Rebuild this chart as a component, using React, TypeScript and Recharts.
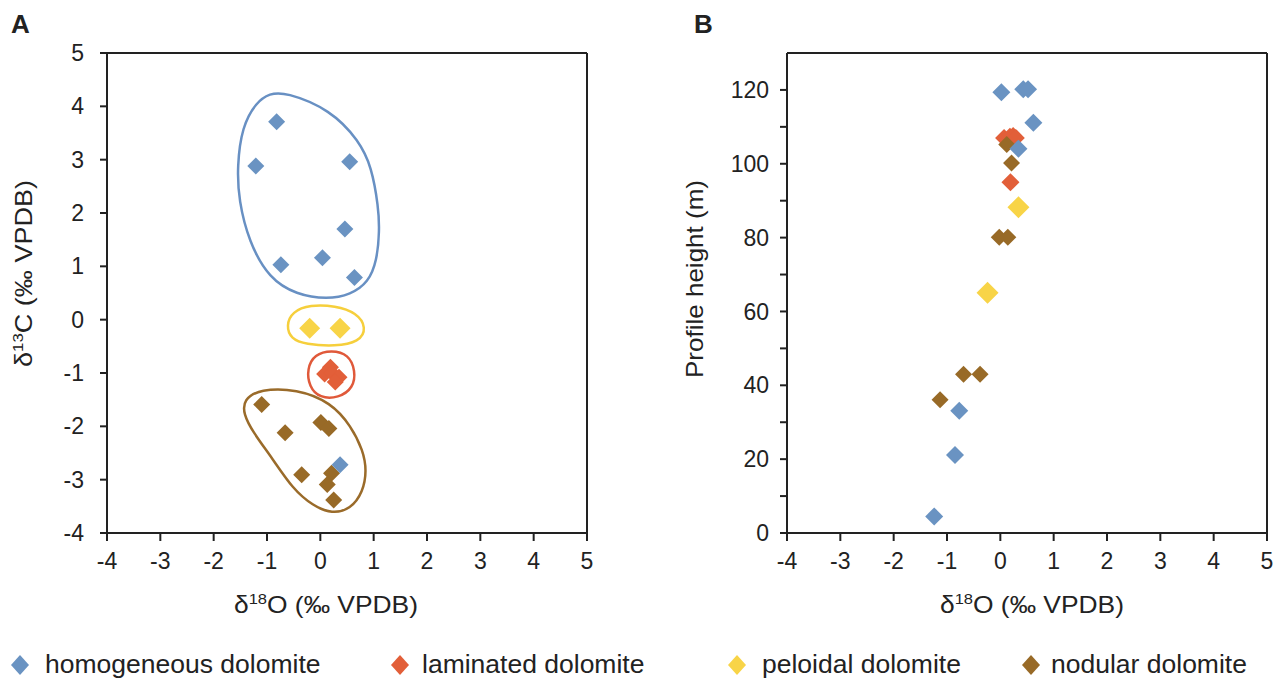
import React from 'react';
import { ScatterChart, Scatter, XAxis, YAxis, ReferenceLine } from 'recharts';

// ---------- data ----------
const xTicks = [-4, -3, -2, -1, 0, 1, 2, 3, 4, 5];
const yTicksA = [-4, -3, -2, -1, 0, 1, 2, 3, 4, 5];
const yTicksB = [0, 10, 20, 30, 40, 50, 60, 70, 80, 90, 100, 110, 120];

// Panel A: d18O (x) vs d13C (y)
const homA = [
  { x: -0.82, y: 3.71 }, { x: -1.21, y: 2.88 }, { x: 0.55, y: 2.96 }, { x: 0.46, y: 1.7 },
  { x: 0.04, y: 1.16 }, { x: -0.74, y: 1.03 }, { x: 0.64, y: 0.79 }, { x: 0.37, y: -2.72 },
];
const lamA = [
  { x: 0.19, y: -0.89 }, { x: 0.08, y: -1.02 }, { x: 0.22, y: -1.0 }, { x: 0.35, y: -1.08 }, { x: 0.28, y: -1.17 },
];
const pelA = [{ x: -0.2, y: -0.16 }, { x: 0.37, y: -0.16 }];
const nodA = [
  { x: -1.1, y: -1.59 }, { x: -0.66, y: -2.12 }, { x: 0.01, y: -1.93 }, { x: 0.16, y: -2.04 },
  { x: -0.35, y: -2.91 }, { x: 0.21, y: -2.88 }, { x: 0.13, y: -3.09 }, { x: 0.25, y: -3.38 },
];

// Group outlines in panel A (annotation loops, data coordinates)
const loopHom = [
  { x: -0.66, y: 4.27 }, { x: 0.19, y: 3.94 }, { x: 0.73, y: 3.35 }, { x: 0.96, y: 2.87 }, { x: 1.09, y: 2.11 },
  { x: 1.11, y: 1.67 }, { x: 1.06, y: 1.1 }, { x: 0.9, y: 0.7 }, { x: 0.57, y: 0.47 }, { x: 0.13, y: 0.38 },
  { x: -0.45, y: 0.47 }, { x: -0.96, y: 0.77 }, { x: -1.34, y: 1.46 }, { x: -1.53, y: 2.24 }, { x: -1.56, y: 2.86 },
  { x: -1.47, y: 3.62 }, { x: -1.2, y: 4.08 }, { x: -0.95, y: 4.24 },
];
const loopPel = [
  { x: -0.64, y: -0.11 }, { x: -0.53, y: 0.15 }, { x: -0.19, y: 0.28 }, { x: 0.28, y: 0.26 }, { x: 0.68, y: 0.13 },
  { x: 0.87, y: -0.15 }, { x: 0.73, y: -0.42 }, { x: 0.28, y: -0.5 }, { x: -0.28, y: -0.46 }, { x: -0.55, y: -0.36 },
];
const loopLam = [
  { x: 0.21, y: -0.57 }, { x: 0.53, y: -0.65 }, { x: 0.66, y: -0.96 }, { x: 0.62, y: -1.28 }, { x: 0.34, y: -1.47 },
  { x: -0.01, y: -1.47 }, { x: -0.21, y: -1.26 }, { x: -0.25, y: -0.92 }, { x: -0.11, y: -0.65 },
];
const loopNod = [
  { x: -1.13, y: -1.3 }, { x: -0.44, y: -1.3 }, { x: 0.2, y: -1.55 }, { x: 0.58, y: -2.0 }, { x: 0.8, y: -2.45 },
  { x: 0.87, y: -2.83 }, { x: 0.8, y: -3.23 }, { x: 0.57, y: -3.55 }, { x: 0.22, y: -3.64 }, { x: -0.14, y: -3.49 },
  { x: -0.52, y: -3.17 }, { x: -0.9, y: -2.6 }, { x: -1.27, y: -2.1 }, { x: -1.44, y: -1.77 }, { x: -1.44, y: -1.5 },
];

// Panel B: d18O (x) vs profile height (y, m)
const homB = [
  { x: 0.02, y: 119.4 }, { x: 0.43, y: 120.2 }, { x: 0.52, y: 120.2 }, { x: 0.62, y: 111.1 },
  { x: 0.34, y: 104.1 }, { x: -0.77, y: 33.1 }, { x: -0.85, y: 21.1 }, { x: -1.24, y: 4.5 },
];
const lamB = [
  { x: 0.07, y: 107.0 }, { x: 0.18, y: 107.3 }, { x: 0.24, y: 107.5 }, { x: 0.29, y: 107.0 }, { x: 0.19, y: 95.0 },
];
const pelB = [{ x: 0.34, y: 88.2 }, { x: -0.24, y: 65.1 }];
const nodB = [
  { x: 0.12, y: 105.2 }, { x: 0.21, y: 100.2 }, { x: -0.02, y: 80.1 }, { x: 0.14, y: 80.1 },
  { x: -0.69, y: 43.0 }, { x: -0.38, y: 43.0 }, { x: -1.13, y: 36.1 },
];

const legendItems = [
  { name: 'homogeneous dolomite', key: 'hom' },
  { name: 'laminated dolomite', key: 'lam' },
  { name: 'peloidal dolomite', key: 'pel' },
  { name: 'nodular dolomite', key: 'nod' },
];

// ---------- styles ----------
const C: Record<string, string> = {
  hom: '#6a93c2',
  lam: '#e25f39',
  pel: '#f8d447',
  nod: '#986a27',
};
const LOOP: Record<string, string> = {
  hom: '#6890c3',
  lam: '#e0593a',
  pel: '#f6cf3c',
  nod: '#9a6b2a',
};
const FONT = '"Liberation Sans", Arial, Helvetica, sans-serif';
const INK = '#222';
const tickStyle = { fontSize: 23, fill: INK, fontFamily: FONT };

const diamond = (r: number) => (props: any) => {
  const { cx, cy, fill } = props;
  if (cx == null || cy == null) return <g />;
  return <polygon points={`${cx},${cy - r} ${cx + r},${cy} ${cx},${cy + r} ${cx - r},${cy}`} fill={fill} />;
};
const noShape = () => <g />;

const d18Title = (startX: number) => (props: any) => {
  const vb = props.viewBox || {};
  return (
    <text
      x={startX}
      y={(vb.y || 0) + 80}
      fontSize={24}
      fill={INK}
      fontFamily={FONT}
      textAnchor="start"
      textLength={184}
      lengthAdjust="spacingAndGlyphs"
    >
      <tspan>δ</tspan>
      <tspan fontSize={15} dy={-9}>18</tspan>
      <tspan dy={9}>O (‰ VPDB)</tspan>
    </text>
  );
};

const yTitleA = () => (
  <text
    transform="translate(32, 367) rotate(-90)"
    fontSize={24}
    fill={INK}
    fontFamily={FONT}
    textAnchor="start"
    textLength={187}
    lengthAdjust="spacingAndGlyphs"
  >
    <tspan>δ</tspan>
    <tspan fontSize={15} dy={-9}>13</tspan>
    <tspan dy={9}>C (‰ VPDB)</tspan>
  </text>
);
const yTitleB = () => (
  <text
    transform="translate(23, 378) rotate(-90)"
    fontSize={24}
    fill={INK}
    fontFamily={FONT}
    textAnchor="start"
    textLength={198}
    lengthAdjust="spacingAndGlyphs"
  >
    Profile height (m)
  </text>
);

const axisCommon = {
  axisLine: { stroke: INK, strokeWidth: 2 },
  tickLine: { stroke: INK, strokeWidth: 2 },
  tick: tickStyle,
};

const loopLine = (k: string) => ({ stroke: LOOP[k], strokeWidth: 2.5, fill: 'none' });

export default function App() {
  return (
    <div style={{ position: 'absolute', left: 0, top: 0, width: 1276, height: 679, background: '#fff' }}>
      {/* Panel A */}
      <div style={{ position: 'absolute', left: 0, top: 0 }}>
        <ScatterChart width={640} height={640} margin={{ top: 53, right: 53, bottom: 27, left: 0 }}>
          <XAxis
            type="number"
            dataKey="x"
            domain={[-4, 5]}
            ticks={xTicks}
            height={80}
            tickSize={8}
            tickMargin={12}
            interval={0}
            allowDataOverflow
            label={{ content: d18Title(234) }}
            {...axisCommon}
          />
          <YAxis
            type="number"
            dataKey="y"
            domain={[-4, 5]}
            ticks={yTicksA}
            width={107}
            tickSize={7}
            tickMargin={16}
            interval={0}
            allowDataOverflow
            label={{ content: yTitleA }}
            {...axisCommon}
          />
          <ReferenceLine y={5} stroke={INK} strokeWidth={2} />
          <ReferenceLine x={5} stroke={INK} strokeWidth={2} />
          <Scatter data={loopHom} line={loopLine('hom')} lineType="joint" lineJointType="basisClosed" shape={noShape} legendType="none" isAnimationActive={false} />
          <Scatter data={loopPel} line={loopLine('pel')} lineType="joint" lineJointType="basisClosed" shape={noShape} legendType="none" isAnimationActive={false} />
          <Scatter data={loopLam} line={loopLine('lam')} lineType="joint" lineJointType="basisClosed" shape={noShape} legendType="none" isAnimationActive={false} />
          <Scatter data={loopNod} line={loopLine('nod')} lineType="joint" lineJointType="basisClosed" shape={noShape} legendType="none" isAnimationActive={false} />
          <Scatter name="laminated dolomite" data={lamA} fill={C.lam} shape={diamond(8.5)} isAnimationActive={false} />
          <Scatter name="peloidal dolomite" data={pelA} fill={C.pel} shape={diamond(10.5)} isAnimationActive={false} />
          <Scatter name="nodular dolomite" data={nodA} fill={C.nod} shape={diamond(8.5)} isAnimationActive={false} />
          <Scatter name="homogeneous dolomite" data={homA} fill={C.hom} shape={diamond(8.5)} isAnimationActive={false} />
        </ScatterChart>
      </div>

      {/* Panel B */}
      <div style={{ position: 'absolute', left: 680, top: 0 }}>
        <ScatterChart width={596} height={640} margin={{ top: 53, right: 9, bottom: 27, left: 0 }}>
          <XAxis
            type="number"
            dataKey="x"
            domain={[-4, 5]}
            ticks={xTicks}
            height={80}
            tickSize={8}
            tickMargin={12}
            interval={0}
            allowDataOverflow
            label={{ content: d18Title(260) }}
            {...axisCommon}
          />
          <YAxis
            type="number"
            dataKey="y"
            domain={[0, 130]}
            ticks={yTicksB}
            width={107}
            tickSize={7}
            tickMargin={11}
            interval={0}
            allowDataOverflow
            tickFormatter={(v: number) => (v % 20 === 0 ? String(v) : '')}
            label={{ content: yTitleB }}
            {...axisCommon}
          />
          <ReferenceLine y={130} stroke={INK} strokeWidth={2} />
          <ReferenceLine x={5} stroke={INK} strokeWidth={2} />
          <Scatter name="laminated dolomite" data={lamB} fill={C.lam} shape={diamond(9)} isAnimationActive={false} />
          <Scatter name="peloidal dolomite" data={pelB} fill={C.pel} shape={diamond(11)} isAnimationActive={false} />
          <Scatter name="nodular dolomite" data={nodB} fill={C.nod} shape={diamond(8.5)} isAnimationActive={false} />
          <Scatter name="homogeneous dolomite" data={homB} fill={C.hom} shape={diamond(9)} isAnimationActive={false} />
        </ScatterChart>
      </div>

      {/* Panel letters and shared legend */}
      <svg
        width={1276}
        height={679}
        style={{ position: 'absolute', left: 0, top: 0, pointerEvents: 'none' }}
      >
        <text x={11} y={33} fontSize={26} fontWeight="bold" fill={INK} fontFamily={FONT}>A</text>
        <text x={694} y={33} fontSize={26} fontWeight="bold" fill={INK} fontFamily={FONT}>B</text>
        {legendItems.map((it, i) => {
          const iconX = [20, 400, 737, 1031][i];
          const textX = [45, 422, 762, 1051][i];
          const cy = 665;
          return (
            <g key={it.key}>
              <polygon
                points={`${iconX},${cy - 10} ${iconX + 9},${cy} ${iconX},${cy + 10} ${iconX - 9},${cy}`}
                fill={C[it.key]}
              />
              <text x={textX} y={673} fontSize={26.5} fill={INK} fontFamily={FONT}>{it.name}</text>
            </g>
          );
        })}
      </svg>
    </div>
  );
}
